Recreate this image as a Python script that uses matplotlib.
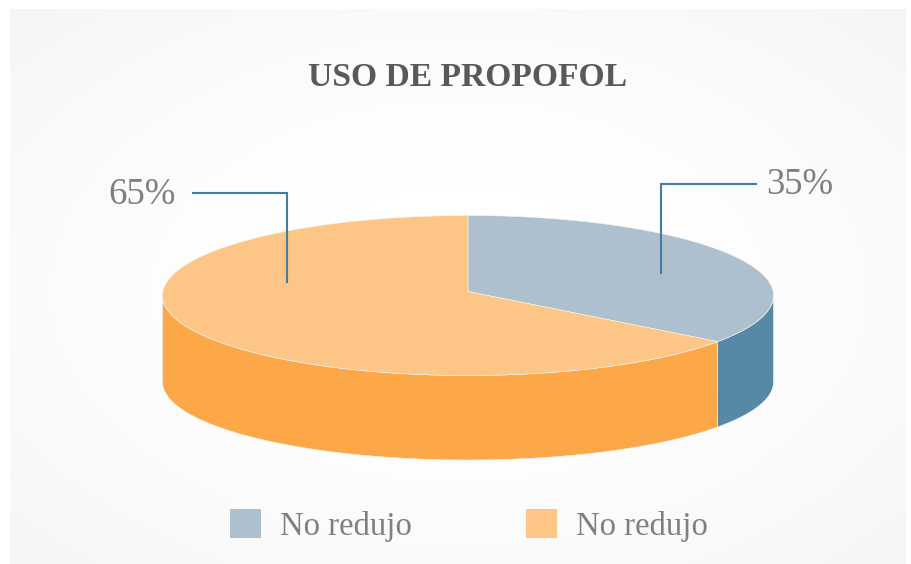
import numpy as np
import matplotlib
matplotlib.use("Agg")
import matplotlib.pyplot as plt
from matplotlib.patches import Polygon, Patch

title = "USO DE PROPOFOL"
categories = ["No redujo", "No redujo"]
values = [35, 65]
labels = ["35%", "65%"]
top_colors = ["#AEC0CD", "#FDC686"]
side_colors = ["#5789A6", "#FCA748"]

W, H = 912, 564
cx, cy, rx, ry = 468, 295.5, 305.5, 80
wall_cy, wall_ry = 382, 78
vertex_y = 291.5
tilt_deg = 1.0  # perspective shift of the seams
plt.rcParams["font.family"] = ["Liberation Serif", "DejaVu Serif"]

fig = plt.figure(figsize=(W / 100, H / 100), dpi=100, facecolor="white")
ax = fig.add_axes([0, 0, 1, 1])
ax.axis("off")

# radial background
yy, xx = np.mgrid[9:564, 10:906]
d = np.sqrt(((xx - 458) / 640) ** 2 + ((yy - 290) / 400) ** 2)
shade = 255 - 11 * np.clip(d, 0, 1) ** 1.8
ax.imshow(shade, cmap="gray", vmin=0, vmax=255, extent=(10, 906, 564, 9),
          aspect="auto", interpolation="bilinear", zorder=0)
ax.set_xlim(0, W)
ax.set_ylim(H, 0)


def arc(a0, a1, yc=cy, yr=ry, n=200):
    t = np.radians(np.linspace(a0, a1, n))
    return np.column_stack([cx + rx * np.sin(t), yc - yr * np.cos(t)])


edges = np.concatenate([[0], np.cumsum(values)]) * 360.0 / sum(values)
edges = edges - tilt_deg * np.sin(np.radians(edges))
for i in range(len(values)):
    a0, a1 = edges[i], edges[i + 1]
    lo, hi = max(a0, 90), min(a1, 270)
    if hi > lo:
        wall = np.vstack([arc(lo, hi), arc(lo, hi, wall_cy, wall_ry)[::-1]])
        ax.add_patch(Polygon(wall, closed=True, fc=side_colors[i], ec="#F4F6F7",
                             lw=0.4, zorder=2))
for i in range(len(values)):
    pts = np.vstack([[cx, vertex_y], arc(edges[i], edges[i + 1])])
    ax.add_patch(Polygon(pts, closed=True, fc=top_colors[i], ec="#F4F6F7",
                         lw=0.4, zorder=3))

line_c = "#3F7F9F"
ax.plot([661.5, 661.5, 756], [273, 183.5, 183.5], color=line_c, lw=1.5, zorder=4,
        solid_joinstyle="miter")
ax.plot([287.5, 287.5, 193], [282, 193, 193], color=line_c, lw=1.5, zorder=4,
        solid_joinstyle="miter")

ax.text(766.5, 185, labels[0], fontsize=26.5, color="#7F7F7F", va="center", ha="left", zorder=5)
ax.text(175.5, 195, labels[1], fontsize=26.5, color="#7F7F7F", va="center", ha="right", zorder=5)
ax.text(468, 78, title, fontsize=24.2, fontweight="bold", color="#595959",
        va="center", ha="center", zorder=5)

handles = [Patch(fc=c, ec="none") for c in top_colors]
leg = ax.legend(handles, categories, ncol=2, loc="center", bbox_to_anchor=(469, 525.5),
                bbox_transform=ax.transData, frameon=False, fontsize=23.6,
                labelcolor="#7F7F7F", handlelength=0.95, handleheight=0.95,
                handletextpad=0.58, columnspacing=3.47)
fig.savefig("out.png", dpi=100, facecolor="white")
